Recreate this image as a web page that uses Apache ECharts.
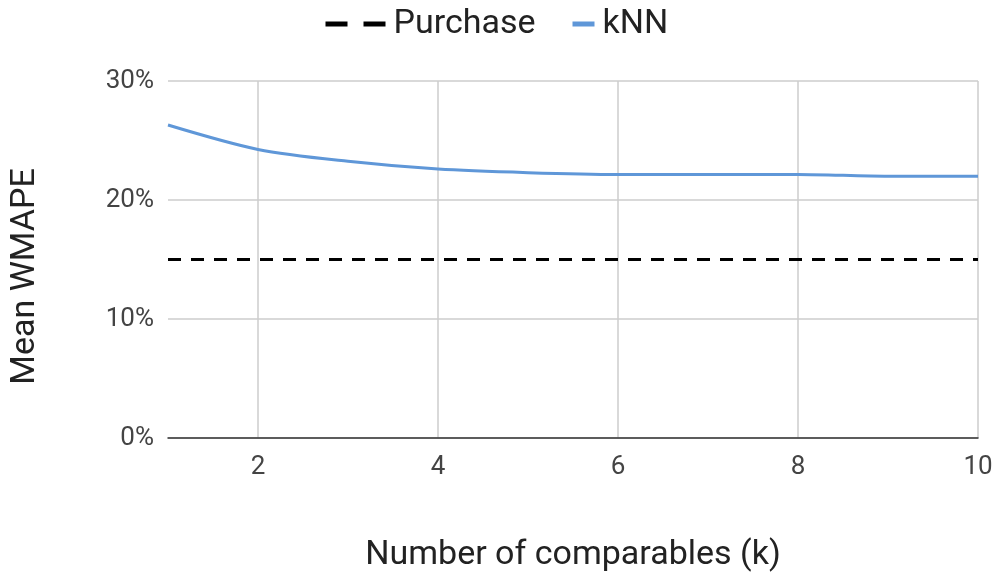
<!DOCTYPE html>
<html>
<head>
<meta charset="utf-8">
<script src="https://cdn.jsdelivr.net/npm/echarts@6/dist/echarts.min.js"></script>
<style>
  html, body { margin: 0; padding: 0; background: #fff; }
  #chart { width: 996px; height: 578px; }
</style>
</head>
<body>
<div id="chart"></div>
<script>
// Number of comparables k
const kValues = [1, 2, 3, 4, 5, 6, 7, 8, 9, 10];
// Mean WMAPE (%) of the kNN model for each k
const knnWmape = [26.3, 24.25, 23.25, 22.6, 22.3, 22.15, 22.15, 22.15, 22.0, 22.0];
// Purchase-based baseline (%)
const purchaseWmape = 15.0;
// Tick labels
const xTicks = [2, 4, 6, 8, 10];
const yTicks = [0, 10, 20, 30];

const knnData = kValues.map((k, i) => [k, knnWmape[i]]);
const purchaseData = kValues.map(k => [k, purchaseWmape]);

const textColor = '#222';
const tickColor = '#444';
const blue = '#5f97d8';
const font = 'Roboto, "Noto Sans", sans-serif';

const chart = echarts.init(document.getElementById('chart'), null, { renderer: 'canvas' });
chart.setOption({
  animation: false,
  backgroundColor: '#fff',
  textStyle: { fontFamily: font },
  legend: [
    {
      data: [{ name: 'Purchase',
        itemStyle: { opacity: 0 },
        lineStyle: { color: '#000', width: 5, type: [22, 16] } }],
      left: 318, top: 2,
      itemWidth: 60, itemHeight: 12,
      textStyle: { fontSize: 34, color: textColor, fontFamily: font, padding: [0, 0, 0, 3] }
    },
    {
      data: [{ name: 'kNN',
        itemStyle: { opacity: 0 },
        lineStyle: { color: blue, width: 5 } }],
      left: 565, top: 2,
      itemWidth: 22, itemHeight: 12,
      textStyle: { fontSize: 34, color: textColor, fontFamily: font, padding: [0, 0, 0, 3] }
    }
  ],
  grid: { left: 168, right: 18, top: 81, bottom: 140, containLabel: false },
  xAxis: {
    type: 'value',
    min: 1, max: 10,
    name: 'Number of comparables (k)',
    nameLocation: 'middle',
    nameGap: 100,
    nameTextStyle: { fontSize: 34, color: textColor, fontFamily: font },
    axisLine: { show: true, lineStyle: { color: '#333', width: 1.5 } },
    axisTick: { show: false, customValues: xTicks },
    axisLabel: { customValues: xTicks, fontSize: 26, color: tickColor, margin: 16, fontFamily: font },
    splitLine: { show: true, lineStyle: { color: '#cccccc', width: 1.5 } }
  },
  yAxis: {
    type: 'value',
    min: 0, max: 30, interval: 10,
    name: 'Mean WMAPE',
    nameLocation: 'middle',
    nameGap: 126,
    nameRotate: 90,
    nameTextStyle: { fontSize: 34, color: textColor, fontFamily: font, padding: [0, 34, 0, 0] },
    axisLine: { show: false },
    axisTick: { show: false },
    axisLabel: { formatter: v => yTicks.includes(v) ? v + '%' : '', fontSize: 26, color: tickColor, margin: 14, fontFamily: font },
    splitLine: { show: true, lineStyle: { color: '#cccccc', width: 1.5 } }
  },
  series: [
    {
      name: 'Purchase',
      type: 'line',
      data: purchaseData,
      showSymbol: false,
      symbol: 'none',
      lineStyle: { color: '#000', width: 3, type: [13, 10] },
      itemStyle: { color: '#000' },
      z: 3
    },
    {
      name: 'kNN',
      type: 'line',
      data: knnData,
      showSymbol: false,
      symbol: 'none',
      smooth: 0.3,
      lineStyle: { color: blue, width: 3 },
      itemStyle: { color: blue },
      z: 4
    }
  ]
});
</script>
</body>
</html>
